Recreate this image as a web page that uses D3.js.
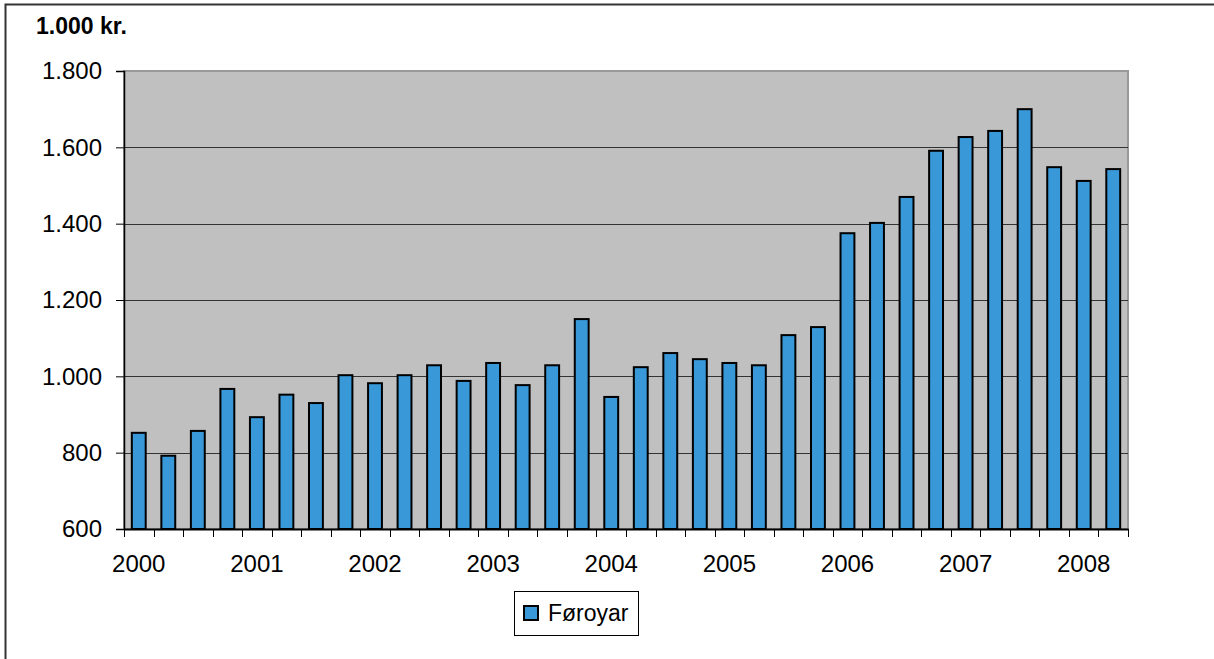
<html lang="fo"><head>
<meta charset="utf-8">
<title>Føroyar</title>
<script type="text/javascript" src="https://cdn.jsdelivr.net/npm/d3@7"></script>
<style type="text/css">
  body { margin: 0; background: #fff; }
  text { font-family: "Liberation Sans", Arial, sans-serif; }
</style>
</head>
<body>
<script type="text/javascript">

// quarters 2000 K1 .. 2008 K2
var quarters = [];
var years = ["2000", "2001", "2002", "2003", "2004", "2005", "2006", "2007", "2008"];
years.forEach(function(y) {
  ["K1", "K2", "K3", "K4"].forEach(function(q) { quarters.push(y + " " + q); });
});
quarters = quarters.slice(0, 34);

var values = [852, 792, 857, 967, 893, 952, 930, 1003, 982, 1003,
              1029, 988, 1035, 977, 1029, 1150, 946, 1024, 1061, 1045,
              1035, 1029, 1108, 1129, 1375, 1402, 1470, 1591, 1627, 1643,
              1700, 1548, 1512, 1543];

var yTicks = [600, 800, 1000, 1200, 1400, 1600, 1800];
var seriesName = "Føroyar";
var unitLabel = "1.000 kr.";

var w = 1214, h = 659;
// note: "top" is taken by window.top, so plot edges get their own names
var pLeft = 124, pRight = 1128, pTop = 71, pBottom = 529;

var svg = d3.select("body").append("svg")
  .attr("width", w)
  .attr("height", h);

// outer frame (runs off the right and bottom edge)
svg.append("rect")
  .attr("x", 5.5).attr("y", 4.5)
  .attr("width", w + 10).attr("height", h + 10)
  .attr("fill", "none")
  .attr("stroke", "#333").attr("stroke-width", 2);

var x = d3.scaleBand().domain(quarters).range([pLeft, pRight]);
var y = d3.scaleLinear().domain([600, 1800]).range([pBottom, pTop]);

// plot area
svg.append("rect")
  .attr("x", pLeft).attr("y", pTop)
  .attr("width", pRight - pLeft).attr("height", pBottom - pTop)
  .attr("fill", "#c0c0c0")
  .attr("stroke", "#999").attr("stroke-width", 2);

// gridlines
svg.selectAll("line.grid")
  .data(yTicks.slice(1, -1))
  .enter().append("line")
  .attr("class", "grid")
  .attr("x1", pLeft).attr("x2", pRight)
  .attr("y1", function(d) { return Math.round(y(d)) + 0.5; })
  .attr("y2", function(d) { return Math.round(y(d)) + 0.5; })
  .attr("stroke", "#333").attr("stroke-width", 1);

// bars
var bw = x.step() * 0.47;
svg.selectAll("rect.bar")
  .data(values)
  .enter().append("rect")
  .attr("class", "bar")
  .attr("x", function(d, i) { return x(quarters[i]) + x.step() / 2 - bw / 2; })
  .attr("y", function(d) { return y(d); })
  .attr("width", bw)
  .attr("height", function(d) { return y(600) - y(d); })
  .attr("fill", "#3998d8")
  .attr("stroke", "#000").attr("stroke-width", 2);

// y axis
var yAxis = d3.axisLeft(y)
  .tickValues(yTicks)
  .tickSize(8)
  .tickPadding(14)
  .tickFormat(function(d) { return d3.format(",")(d).replace(",", "."); });
var gy = svg.append("g").attr("transform", "translate(" + pLeft + ",0)").call(yAxis);
gy.select(".domain").attr("stroke", "#000").attr("stroke-width", 1.5);
gy.selectAll(".tick line").attr("stroke", "#000");
gy.selectAll("text")
  .attr("font-size", "24px").attr("fill", "#000")
  .attr("font-family", "'Liberation Sans', Arial, sans-serif");

// x axis: ticks between quarters, year labels under the first quarter
var xAxis = d3.axisBottom(x).tickSize(0).tickFormat(function(d) {
  return d.slice(-2) == "K1" ? d.slice(0, 4) : "";
}).tickPadding(26);
var gx = svg.append("g").attr("transform", "translate(0," + pBottom + ")").call(xAxis);
gx.select(".domain").attr("stroke", "#000").attr("stroke-width", 2);
gx.selectAll("text")
  .attr("font-size", "24px").attr("fill", "#000")
  .attr("font-family", "'Liberation Sans', Arial, sans-serif");

gx.selectAll("line.sep")
  .data(quarters.concat(["end"]))
  .enter().append("line")
  .attr("class", "sep")
  .attr("x1", function(d, i) { return Math.round(pLeft + i * x.step()) + 0.5; })
  .attr("x2", function(d, i) { return Math.round(pLeft + i * x.step()) + 0.5; })
  .attr("y1", 0).attr("y2", 8)
  .attr("stroke", "#000");

// unit label
svg.append("text")
  .attr("x", 36).attr("y", 34)
  .attr("font-size", "23px").attr("font-weight", "bold")
  .text(unitLabel);

// legend
var lg = svg.append("g").attr("transform", "translate(514,591)");
lg.append("rect")
  .attr("x", 0.5).attr("y", 0.5).attr("width", 124).attr("height", 44)
  .attr("fill", "#fff").attr("stroke", "#000");
lg.append("rect")
  .attr("x", 10).attr("y", 15).attr("width", 14).attr("height", 14)
  .attr("fill", "#3998d8").attr("stroke", "#000").attr("stroke-width", 2);
lg.append("text")
  .attr("x", 34).attr("y", 30)
  .attr("font-size", "23px")
  .text(seriesName);

</script>
</body></html>
